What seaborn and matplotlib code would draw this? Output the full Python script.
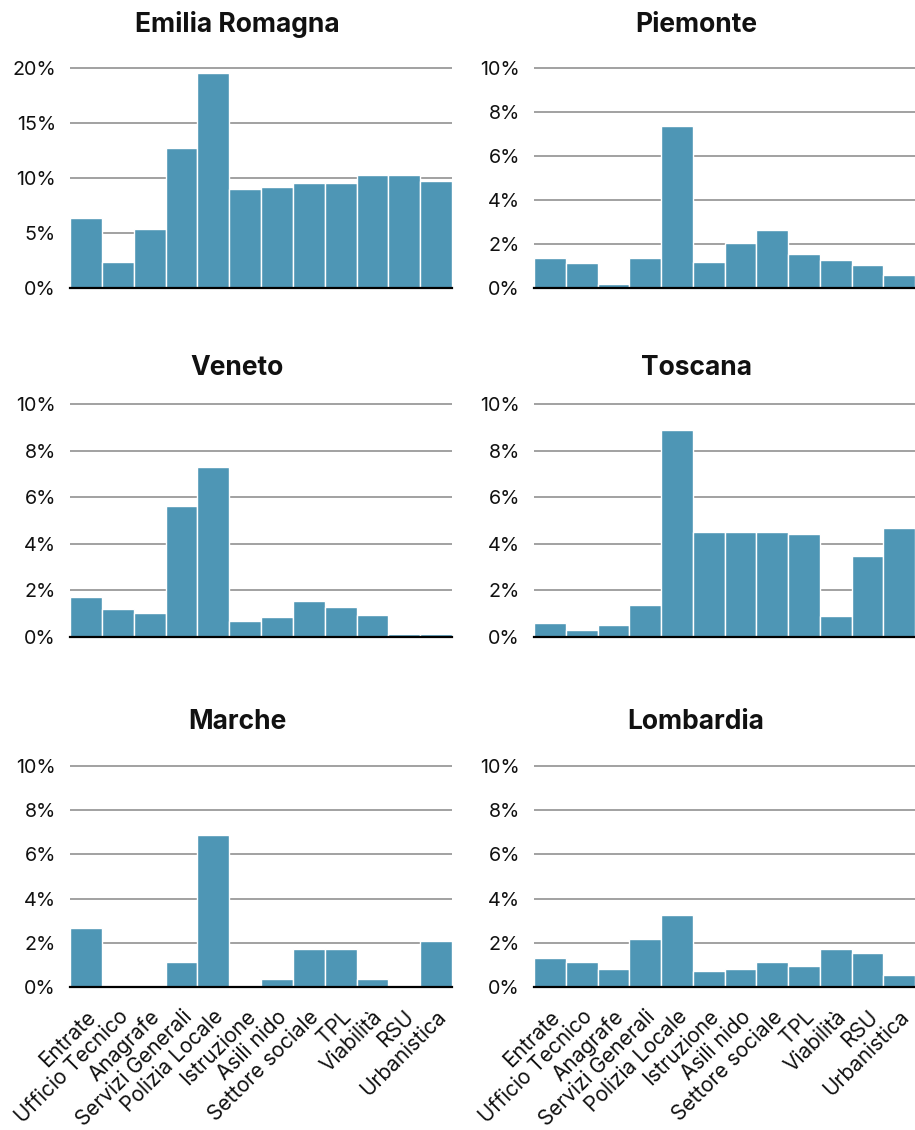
import matplotlib
matplotlib.use("Agg")
import matplotlib.pyplot as plt
import seaborn as sns
import pandas as pd
from matplotlib.ticker import FuncFormatter

categories = ["Entrate", "Ufficio Tecnico", "Anagrafe", "Servizi Generali",
              "Polizia Locale", "Istruzione", "Asili nido", "Settore sociale",
              "TPL", "Viabilità", "RSU", "Urbanistica"]

regions = ["Emilia Romagna", "Piemonte", "Veneto", "Toscana", "Marche", "Lombardia"]

emilia_romagna = [6.4, 2.4, 5.4, 12.7, 19.5, 9.0, 9.2, 9.5, 9.5, 10.3, 10.3, 9.7]
piemonte = [1.37, 1.12, 0.18, 1.37, 7.38, 1.2, 2.05, 2.64, 1.54, 1.28, 1.03, 0.6]
veneto = [1.72, 1.22, 1.05, 5.62, 7.29, 0.7, 0.87, 1.55, 1.3, 0.96, 0.11, 0.11]
toscana = [0.58, 0.28, 0.5, 1.39, 8.89, 4.5, 4.5, 4.5, 4.42, 0.92, 3.48, 4.67]
marche = [2.65, 0.0, 0.0, 1.14, 6.87, 0.0, 0.38, 1.73, 1.73, 0.38, 0.0, 2.06]
lombardia = [1.31, 1.14, 0.8, 2.15, 3.25, 0.72, 0.8, 1.14, 0.96, 1.73, 1.56, 0.53]

series = [emilia_romagna, piemonte, veneto, toscana, marche, lombardia]
y_max = [20, 10, 10, 10, 10, 10]
y_step = [5, 2, 2, 2, 2, 2]

rows = []
for reg, vals in zip(regions, series):
    for c, v in zip(categories, vals):
        rows.append({"region": reg, "category": c, "value": v})
df = pd.DataFrame(rows)

sns.set_style("white")
plt.rcParams["font.family"] = ["Inter", "DejaVu Sans"]

W, H = 915, 1130
fig = plt.figure(figsize=(W / 100, H / 100), dpi=100)

col_x = [(70, 452), (534, 915)]
row_y = [(67, 288), (403, 637), (765, 987)]
title_y = [25, 368, 722]
title_x = [237, 696]

bar_color = "#4e96b5"

for i, reg in enumerate(regions):
    r, c = divmod(i, 2)
    x0, x1 = col_x[c]
    yt, yb = row_y[r]
    ax = fig.add_axes([x0 / W, 1 - yb / H, (x1 - x0) / W, (yb - yt) / H])
    sub = df[df.region == reg]
    sns.barplot(data=sub, x="category", y="value", order=categories,
                color=bar_color, width=1.0, edgecolor="white", linewidth=1.0,
                saturation=1, ax=ax, zorder=2)
    ax.set_xlim(-0.5, len(categories) - 0.5)
    ax.set_ylim(0, y_max[i] * 1.004)
    ax.set_yticks(range(0, y_max[i] + 1, y_step[i]))
    ax.yaxis.set_major_formatter(FuncFormatter(lambda v, p: f"{int(v)}%"))
    ax.grid(axis="y", color="#9a9a9a", linewidth=1.3, zorder=0)
    ax.grid(axis="x", visible=False)
    ax.set_axisbelow(True)
    for s in ["top", "right", "left"]:
        ax.spines[s].set_visible(False)
    ax.spines["bottom"].set_color("black")
    ax.spines["bottom"].set_linewidth(1.6)
    ax.spines["bottom"].set_zorder(5)
    ax.set_xlabel("")
    ax.set_ylabel("")
    ax.tick_params(axis="y", length=0, pad=10, labelsize=14.2, labelcolor="#111111")
    if r == 2:
        ax.tick_params(axis="x", length=0, pad=14, labelsize=15, labelcolor="#111111")
        for lab in ax.get_xticklabels():
            lab.set_rotation(45)
            lab.set_ha("right")
            lab.set_rotation_mode("anchor")
    else:
        ax.tick_params(axis="x", length=0, labelbottom=False)
    fig.text(title_x[c] / W, 1 - title_y[r] / H, reg, ha="center", va="center",
             fontsize=19, fontweight="bold", color="#111111")

fig.savefig("out.png", dpi=100)
